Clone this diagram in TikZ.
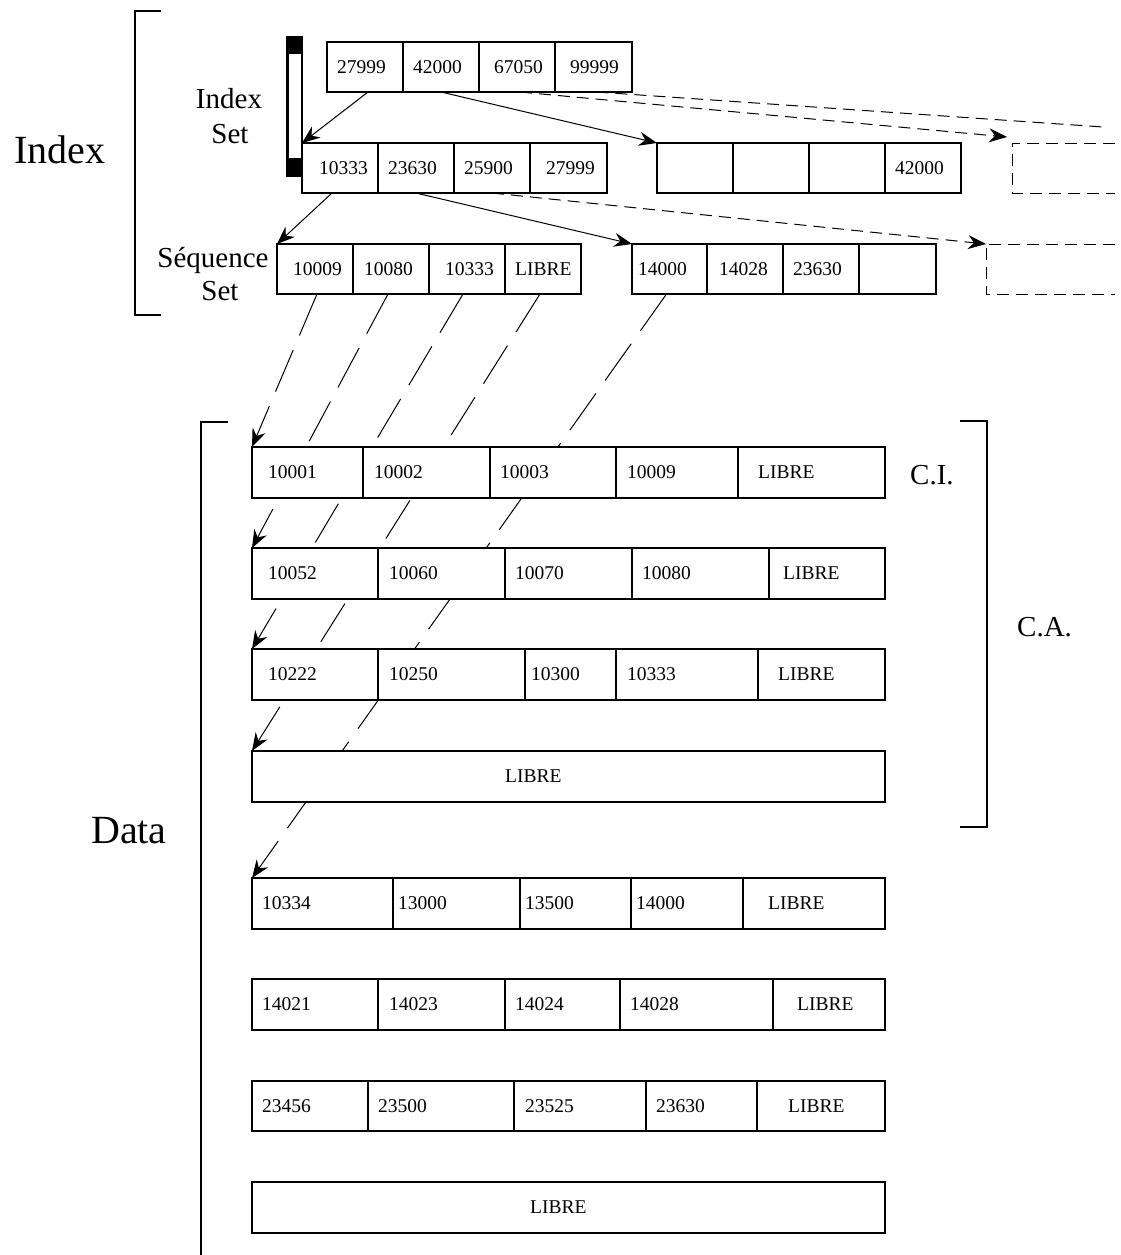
\documentclass[tikz,border=0pt]{standalone}
\usepackage{fontspec}
\setmainfont{Liberation Serif}
\usetikzlibrary{arrows.meta,backgrounds,calc}
\tikzset{
  cellbox/.style={draw, fill=white, line width=1.1pt, inner sep=0pt, outer sep=0pt, anchor=north west},
  celltext/.style={inner sep=0pt, anchor=west, font=\fontsize{19.5}{23}\selectfont},
  lbl/.style={inner sep=0pt, font=\fontsize{29}{35}\selectfont},
  biglbl/.style={inner sep=0pt, font=\fontsize{40}{48}\selectfont},
  ptr/.style={line width=1pt, -{Stealth[length=18pt,width=14pt,inset=6pt]}},
  shortdash/.style={dash pattern=on 12pt off 7pt},
  longdash/.style={dash pattern=on 45pt off 16pt},
  bracketline/.style={line width=2pt},
}
\newcommand\mkcell[7]{%
  \pgfmathsetmacro\cw{#3-#2}\pgfmathsetmacro\ch{#5-#4}%
  \node[cellbox, minimum width=\cw pt, minimum height=\ch pt] (#1) at (#2,#4) {};
  \node[celltext] (#1t) at (#6,{(#4+#5)/2}) {#7};
}
\begin{document}
\begin{tikzpicture}[x=1pt,y=-1pt]
\useasboundingbox (0,0) rectangle (1121,1255);

% brackets
\draw[bracketline] (161,11) -- (135,11) -- (135,315) -- (161,315);
\draw[bracketline] (228,422) -- (201,422) -- (201,1262);
\draw[bracketline] (960,421) -- (987,421) -- (987,827) -- (960,827);

% labels
\node[biglbl, anchor=base west] (lindex) at (14,163) {Index};
\node[lbl, anchor=base] (lis1) at (229,108) {Index};
\node[lbl, anchor=base] (lis2) at (230,143) {Set};
\node[lbl, anchor=base] (lss1) at (213,267) {Séquence};
\node[lbl, anchor=base] (lss2) at (220,300) {Set};
\node[biglbl, anchor=base west] (ldata) at (91,843) {Data};
\node[lbl, anchor=base west] (lci) at (910,484) {C.I.};
\node[lbl, anchor=base west] (lca) at (1017,636) {C.A.};

% black bar
\node[fill=black, minimum width=17pt, minimum height=141pt, inner sep=0pt, outer sep=0pt, anchor=north west] (bar) at (286,36) {};
\node[fill=white, minimum width=12.3pt, minimum height=104pt, inner sep=0pt, outer sep=0pt, anchor=north west] (barwin) at (288.7,54) {};

% index level 1
\mkcell{ia1}{327}{403}{42}{92}{337}{27999}
\mkcell{ia2}{403}{479}{42}{92}{413}{42000}
\mkcell{ia3}{479}{555}{42}{92}{494}{67050}
\mkcell{ia4}{555}{632}{42}{92}{570}{99999}
% index level 2
\mkcell{ib1}{302}{378}{143}{193}{319}{10333}
\mkcell{ib2}{378}{454}{143}{193}{388}{23630}
\mkcell{ib3}{454}{530}{143}{193}{464}{25900}
\mkcell{ib4}{530}{607}{143}{193}{546}{27999}
\mkcell{ic1}{657}{733}{143}{193}{670}{}
\mkcell{ic2}{733}{809}{143}{193}{746}{}
\mkcell{ic3}{809}{885}{143}{193}{822}{}
\mkcell{ic4}{885}{961}{143}{193}{895}{42000}
% sequence set
\mkcell{sa1}{277}{353}{244}{294}{293}{10009}
\mkcell{sa2}{353}{429}{244}{294}{364}{10080}
\mkcell{sa3}{429}{505}{244}{294}{445}{10333}
\mkcell{sa4}{505}{581}{244}{294}{515}{LIBRE}
\mkcell{sb1}{632}{707}{244}{294}{638}{14000}
\mkcell{sb2}{707}{783}{244}{294}{719}{14028}
\mkcell{sb3}{783}{859}{244}{294}{793}{23630}
\mkcell{sb4}{859}{936}{244}{294}{870}{}

% dashed open boxes
\coordinate (db1) at (1012,143);
\coordinate (db1tip) at (1007,137);
\coordinate (db2) at (986,244);
\coordinate (far1) at (1103,127);
\draw[line width=1pt, shortdash] (1115,143) -- (db1) -- (1012,193) -- (1115,193);
\draw[line width=1pt, shortdash] (1115,244) -- (db2) -- (986,294) -- (1115,294);

% data rows
\mkcell{r1a}{252}{363}{447}{498}{268}{10001}
\mkcell{r1b}{363}{490}{447}{498}{374}{10002}
\mkcell{r1c}{490}{616}{447}{498}{500}{10003}
\mkcell{r1d}{616}{738}{447}{498}{627}{10009}
\mkcell{r1e}{738}{885}{447}{498}{758}{LIBRE}

\mkcell{r2a}{252}{378}{548}{599}{268}{10052}
\mkcell{r2b}{378}{505}{548}{599}{389}{10060}
\mkcell{r2c}{505}{632}{548}{599}{515}{10070}
\mkcell{r2d}{632}{769}{548}{599}{642}{10080}
\mkcell{r2e}{769}{885}{548}{599}{783}{LIBRE}

\mkcell{r3a}{252}{378}{649}{700}{268}{10222}
\mkcell{r3b}{378}{525}{649}{700}{389}{10250}
\mkcell{r3c}{525}{616}{649}{700}{531}{10300}
\mkcell{r3d}{616}{758}{649}{700}{627}{10333}
\mkcell{r3e}{758}{885}{649}{700}{778}{LIBRE}

\mkcell{r4}{252}{885}{751}{802}{505}{LIBRE}

\mkcell{r5a}{252}{393}{878}{929}{262}{10334}
\mkcell{r5b}{393}{520}{878}{929}{398}{13000}
\mkcell{r5c}{520}{631}{878}{929}{525}{13500}
\mkcell{r5d}{631}{743}{878}{929}{636}{14000}
\mkcell{r5e}{743}{885}{878}{929}{768}{LIBRE}

\mkcell{r6a}{252}{378}{979}{1030}{262}{14021}
\mkcell{r6b}{378}{505}{979}{1030}{389}{14023}
\mkcell{r6c}{505}{620}{979}{1030}{515}{14024}
\mkcell{r6d}{620}{773}{979}{1030}{630}{14028}
\mkcell{r6e}{773}{885}{979}{1030}{797}{LIBRE}

\mkcell{r7a}{252}{368}{1081}{1131}{262}{23456}
\mkcell{r7b}{368}{514}{1081}{1131}{378}{23500}
\mkcell{r7c}{514}{646}{1081}{1131}{525}{23525}
\mkcell{r7d}{646}{757}{1081}{1131}{656}{23630}
\mkcell{r7e}{757}{885}{1081}{1131}{788}{LIBRE}

\mkcell{r8}{252}{885}{1182}{1233}{530}{LIBRE}

% index connectors
\draw[ptr] ([xshift=3pt]ia1.south) -- (ib1.north west);
\draw[ptr] (ia2.south) -- (ic1.north west);
\draw[ptr, shortdash] ([xshift=3pt]ia3.south) -- (db1tip);
\draw[line width=1pt, shortdash] ([xshift=3pt]ia4.south) -- (far1);
\draw[ptr] ([xshift=-8pt]ib1.south) -- (sa1.north west);
\draw[ptr] (ib2.south) -- (sb1.north west);
\draw[ptr, shortdash] (ib3.south) -- (db2);

% sequence set -> data (behind the boxes)
\begin{pgfonlayer}{background}
\fill[white] (0,0) rectangle (1121,1255);
\draw[ptr, longdash] ([xshift=2pt]sa1.south) -- (r1a.north west);
\draw[ptr, longdash] ([xshift=-3pt]sa2.south) -- (r2a.north west);
\draw[ptr, longdash] ([xshift=-4pt]sa3.south) -- (r3a.north west);
\draw[ptr, longdash] ([xshift=-3pt]sa4.south) -- (r4.north west);
\draw[ptr, longdash] ([xshift=-3pt]sb1.south) -- (r5a.north west);
\end{pgfonlayer}
\end{tikzpicture}
\end{document}
